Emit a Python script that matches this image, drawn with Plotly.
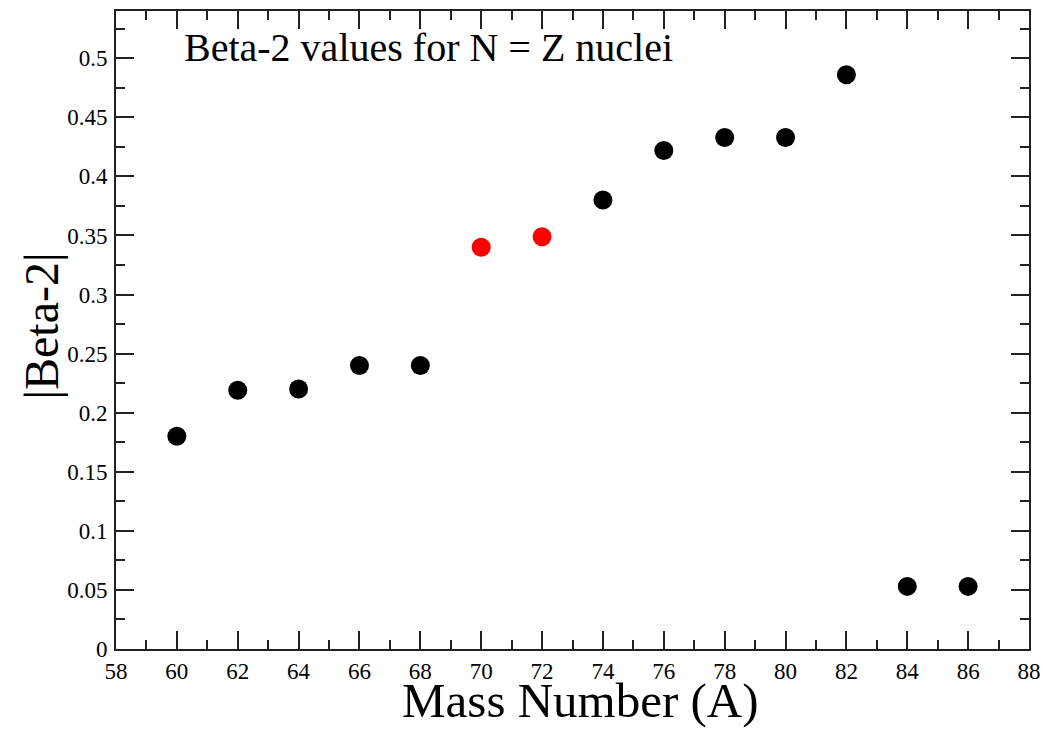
import plotly.graph_objects as go

# Quadrupole deformation |beta2| for N = Z nuclei versus mass number A
mass_black = [60, 62, 64, 66, 68, 74, 76, 78, 80, 82, 84, 86]
beta_black = [0.18, 0.219, 0.22, 0.24, 0.24, 0.38, 0.422, 0.433, 0.433, 0.486, 0.053, 0.053]

mass_red = [70, 72]
beta_red = [0.34, 0.349]

x_range = [58, 88]
y_range = [0, 0.54]

FONT = "Liberation Serif"
AXIS_COLOR = "#222222"

fig = go.Figure()
fig.add_trace(go.Scatter(
    x=mass_black, y=beta_black, mode="markers",
    marker=dict(color="#000000", size=19, line=dict(width=0)),
    showlegend=False,
))
fig.add_trace(go.Scatter(
    x=mass_red, y=beta_red, mode="markers",
    marker=dict(color="#ff0000", size=19, line=dict(width=0)),
    showlegend=False,
))

axis_common = dict(
    showgrid=False, zeroline=False,
    showline=True, linecolor=AXIS_COLOR, linewidth=2, mirror="allticks",
    ticks="inside", ticklen=18, tickwidth=2, tickcolor=AXIS_COLOR,
    tickfont=dict(family=FONT, size=23, color="#000000"),
)

fig.update_xaxes(
    range=x_range, tick0=58, dtick=2,
    minor=dict(dtick=1, ticks="inside", ticklen=9, tickwidth=2, tickcolor=AXIS_COLOR, showgrid=False),
    ticklabelstandoff=0,
    **axis_common,
)
fig.update_yaxes(
    range=y_range, tick0=0, dtick=0.05,
    minor=dict(dtick=0.025, ticks="inside", ticklen=9, tickwidth=2, tickcolor=AXIS_COLOR, showgrid=False),
    ticklabelstandoff=2,
    **axis_common,
)

fig.add_annotation(
    text="Beta-2 values for N = Z nuclei", xref="paper", yref="paper",
    x=0.0719, y=0.943, xanchor="left", yanchor="middle", showarrow=False,
    font=dict(family=FONT, size=40, color="#000000"),
)
fig.add_annotation(
    text="Mass Number (A)", xref="paper", yref="paper",
    x=0.509, y=-0.127, xanchor="center", yanchor="bottom", showarrow=False,
    font=dict(family=FONT, size=49, color="#000000"),
)
fig.add_annotation(
    text="|Beta-2|", xref="paper", yref="paper", textangle=-90,
    x=-0.0817, y=0.506, xanchor="center", yanchor="middle", showarrow=False,
    font=dict(family=FONT, size=48, color="#000000"),
)

fig.update_layout(
    width=1050, height=731,
    margin=dict(l=116, r=16, t=9, b=82),
    paper_bgcolor="#ffffff", plot_bgcolor="#ffffff",
)

fig.write_html("out.html")
